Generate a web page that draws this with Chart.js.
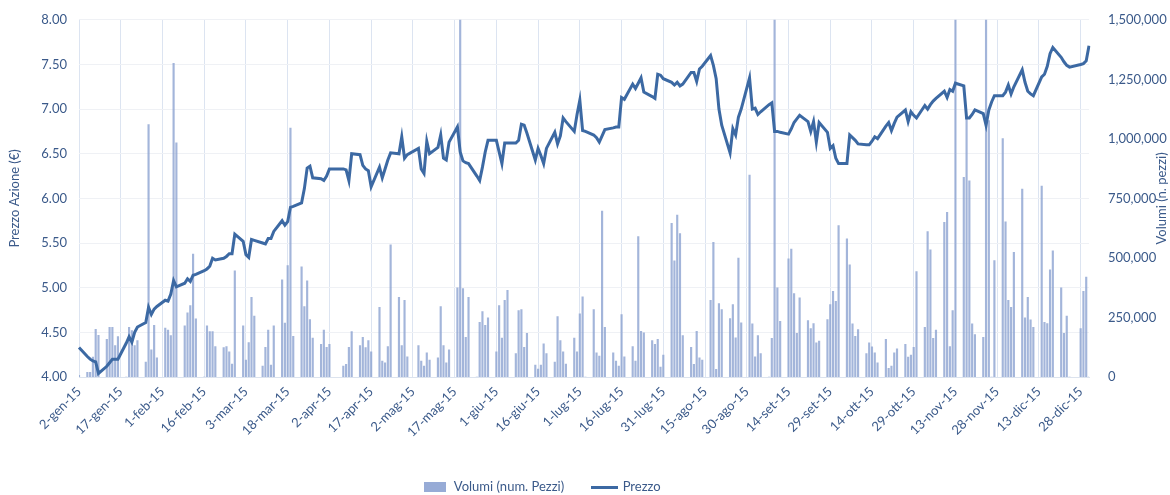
<!DOCTYPE html>
<html>
<head>
<meta charset="utf-8">
<title>Prezzo e volumi 2015</title>
<script src="https://cdn.jsdelivr.net/npm/chart.js@4.4.1/dist/chart.umd.min.js"></script>
<style>
	html, body { margin:0; padding:0; background:#ffffff; }
	canvas { display:block; }
</style>
</head>
<body>
<canvas id="grafico" width="1170" height="495"></canvas>
<script>
	var mesi = ['gen','feb','mar','apr','mag','giu','lug','ago','set','ott','nov','dic'];

	// prezzo, un valore per ogni giorno feriale del mese (null = borsa chiusa)
	var prezzoGen = [4.33,4.23,4.20,4.18,4.17,4.04,4.12,4.16,4.20,4.20,4.20,4.38,4.45,4.39,4.50,4.56,4.61,4.78,4.70,4.76,4.79];
	var prezzoFeb = [4.86,4.85,4.93,5.08,5.01,5.05,5.10,5.07,5.14,5.15,5.19,5.21,5.24,5.33,5.31,5.33,5.35,5.38,5.38,5.60];
	var prezzoMar = [5.52,5.37,5.34,5.54,5.53,5.50,5.49,5.55,5.55,5.63,5.75,5.70,5.74,5.90,5.91,5.95,6.11,6.34,6.36,6.23,6.22,6.20];
	var prezzoApr = [6.25,6.33,null,null,6.33,6.32,6.20,6.50,6.49,6.37,6.33,6.31,6.13,6.35,6.23,6.33,6.43,6.51,6.50,6.69,6.45,6.49];
	var prezzoMag = [null,6.56,6.33,6.28,6.64,6.50,6.57,6.71,6.45,6.43,6.63,6.80,6.52,6.42,6.40,6.39,6.25,6.20,6.35,6.52,6.65];
	var prezzoGiu = [6.65,6.52,6.39,6.62,6.62,6.62,6.65,6.83,6.82,6.73,6.43,6.56,6.48,6.39,6.56,6.74,6.61,6.70,6.90,6.86,6.75,6.94];
	var prezzoLug = [7.10,6.76,6.75,6.71,6.68,6.63,6.70,6.77,6.79,6.80,6.80,7.13,7.11,7.28,7.23,7.29,7.35,7.19,7.14,7.12,7.39,7.38,7.34];
	var prezzoAgo = [7.30,7.27,7.30,7.26,7.28,7.41,7.41,7.31,7.45,7.48,7.60,7.49,7.34,7.00,6.82,6.51,6.78,6.71,6.91,7.00,7.35];
	var prezzoSet = [7.00,7.01,6.94,6.97,7.05,7.07,6.75,6.75,6.74,6.72,6.78,6.85,6.89,6.93,6.86,6.75,6.86,6.63,6.85,6.74,6.56,6.59];
	var prezzoOtt = [6.45,6.39,6.39,6.71,6.68,6.65,6.61,6.60,6.60,6.64,6.69,6.67,6.81,6.85,6.76,6.84,6.91,6.99,6.86,6.97,6.93,6.90];
	var prezzoNov = [7.04,7.00,7.05,7.09,7.12,7.20,7.13,7.22,7.20,7.29,7.26,6.90,6.90,6.94,6.99,6.95,6.82,6.99,7.08,7.15,7.15];
	var prezzoDic = [7.19,7.27,7.17,7.25,7.44,7.30,7.20,7.17,7.15,7.36,7.39,7.48,7.62,7.69,7.58,7.53,7.49,7.47,null,7.50,7.51,7.54,7.71];

	// volumi in migliaia di pezzi, stessi giorni
	var volumiGen = [7,20,20,84,200,175,158,209,209,132,170,0,209,195,132,153,63,1060,114,217,81];
	var volumiFeb = [205,197,174,1317,983,215,269,300,516,244,0,215,191,191,128,124,128,106,54,446];
	var volumiMar = [215,71,145,335,256,46,125,197,50,215,408,226,468,1045,171,463,296,404,241,163,137,197];
	var volumiApr = [125,137,null,null,46,53,125,191,132,167,124,153,106,293,67,60,128,555,335,132,322,85];
	var volumiMag = [null,132,67,46,102,71,81,296,132,59,114,374,1620,371,167,335,0,230,275,217,248];
	var volumiGiu = [106,300,163,322,364,98,279,283,125,183,50,33,50,139,98,63,254,153,106,54,163,106];
	var volumiLug = [265,337,0,283,102,88,697,209,102,67,46,262,85,128,67,590,192,185,153,137,158,42,92];
	var volumiAgo = [645,488,680,602,174,125,53,192,81,71,322,566,32,308,283,245,304,164,499,227,848];
	var volumiSet = [223,85,174,98,0,162,1620,374,234,496,537,350,183,332,237,203,224,144,151,241,304,360];
	var volumiOtt = [318,636,580,471,223,171,199,98,144,127,102,60,158,36,46,102,118,137,84,92,125,443];
	var volumiNov = [209,611,534,162,197,650,691,128,279,1620,839,1090,824,223,178,167,1620,1077,0,489,1001];
	var volumiDic = [652,322,293,524,789,248,335,240,209,802,230,224,450,530,374,183,256,0,null,203,360,420,0];

	var prezzi = [prezzoGen,prezzoFeb,prezzoMar,prezzoApr,prezzoMag,prezzoGiu,prezzoLug,prezzoAgo,prezzoSet,prezzoOtt,prezzoNov,prezzoDic];
	var volumi = [volumiGen,volumiFeb,volumiMar,volumiApr,volumiMag,volumiGiu,volumiLug,volumiAgo,volumiSet,volumiOtt,volumiNov,volumiDic];

	var testo = '#3B5A8A';
	var carattere = {family:'Lato', size:13};

	// asse per data: un'etichetta per ogni giorno di calendario
	var etichette = [], datiPrezzo = [], datiVolumi = [];
	var giorno = new Date(2015, 0, 2);
	var k = 0, meseCorrente = 0;
	while (giorno.getFullYear() == 2015) {
		var m = giorno.getMonth();
		if (m != meseCorrente) { meseCorrente = m; k = 0; }
		etichette.push(giorno.getDate()+'-'+mesi[m]+'-15');
		var dow = giorno.getDay();
		if (dow > 0 && dow < 6) {
			datiPrezzo.push(prezzi[m][k]);
			datiVolumi.push(volumi[m][k] == null ? null : volumi[m][k]*1000);
			k++;
		} else {
			datiPrezzo.push(null);
			datiVolumi.push(null);
		}
		giorno.setDate(giorno.getDate()+1);
	}

	function campione(w, h, colore){
		var c = document.createElement('canvas');
		c.width = w; c.height = h;
		var g = c.getContext('2d');
		g.fillStyle = colore;
		g.fillRect(0, 0, w, h);
		return c;
	}

	var legendaSpostata = {
		id:'legendaSpostata',
		afterLayout:function(chart){
			var l = chart.legend;
			l.left -= 43; l.right -= 43;
			var dy = 487 - (l.top + l.options.labels.padding + 6.5);
			l.top += dy; l.bottom += dy;
		}
	};

	var titoloDestro = {
		id:'titoloDestro',
		afterDraw:function(chart){
			var g = chart.ctx, a = chart.chartArea;
			g.save();
			g.translate(chart.width - 8, (a.top + a.bottom)/2);
			g.rotate(-Math.PI/2);
			g.textAlign = 'center';
			g.textBaseline = 'middle';
			g.fillStyle = testo;
			g.font = '13px Lato';
			g.fillText('Volumi (n. pezzi)', 0, 0);
			g.restore();
		}
	};

	var ctx = document.getElementById('grafico').getContext('2d');
	var grafico = new Chart(ctx, {
		type:'bar',
		data:{
			labels: etichette,
			datasets:[{
				type:'bar',
				label:'Volumi (num. Pezzi)',
				data: datiVolumi,
				yAxisID:'y1',
				backgroundColor:'rgba(140,163,209,0.8)',
				barThickness:1.5,
				order:1,
				pointStyle: campione(22, 10, '#97ABD6')
			},{
				type:'line',
				label:'Prezzo',
				data: datiPrezzo,
				yAxisID:'y',
				borderColor:'#3C69A3',
				borderWidth:3,
				pointRadius:0,
				spanGaps:true,
				tension:0,
				order:0,
				pointStyle: campione(27, 3, '#3C69A3')
			}]
		},
		options:{
			responsive:false,
			animation:false,
			layout:{ padding:{ top:19 } },
			plugins:{
				legend:{
					position:'bottom',
					labels:{ usePointStyle:true, pointStyleWidth:24, color:testo, font:carattere, padding:28,
						sort:function(a, b){ return a.datasetIndex - b.datasetIndex; } }
				},
				tooltip:{ enabled:false }
			},
			scales:{
				x:{
					offset:false,
					grid:{ color:'#DCE4F1', drawTicks:false, offset:false },
					border:{ color:'#DCE3EE' },
					ticks:{
						autoSkip:false, maxRotation:45, minRotation:45, padding:7,
						color:testo, font:carattere,
						callback:function(v, i){ return i % 15 === 0 ? etichette[i] : null; }
					},
					afterFit:function(s){ s.height = 495 - 377 - s.chart.legend.height; }
				},
				y:{
					position:'left', min:4, max:8,
					ticks:{ stepSize:0.5, color:testo, font:carattere, padding:12,
						callback:function(v){ return v.toFixed(2); } },
					grid:{ color:'#EFF1F5', drawTicks:false },
					border:{ display:false },
					title:{ display:true, text:'Prezzo Azione (€)', color:testo, font:carattere, padding:{top:7, bottom:0} },
					afterFit:function(s){ s.width = 79; }
				},
				y1:{
					position:'right', min:0, max:1500000,
					ticks:{ stepSize:250000, color:testo, font:carattere, padding:11,
						callback:function(v){ return v.toLocaleString('en-US'); } },
					grid:{ display:false },
					border:{ display:false },
					afterFit:function(s){ s.width = 81; }
				}
			}
		},
		plugins:[legendaSpostata, titoloDestro]
	});
</script>
</body>
</html>
